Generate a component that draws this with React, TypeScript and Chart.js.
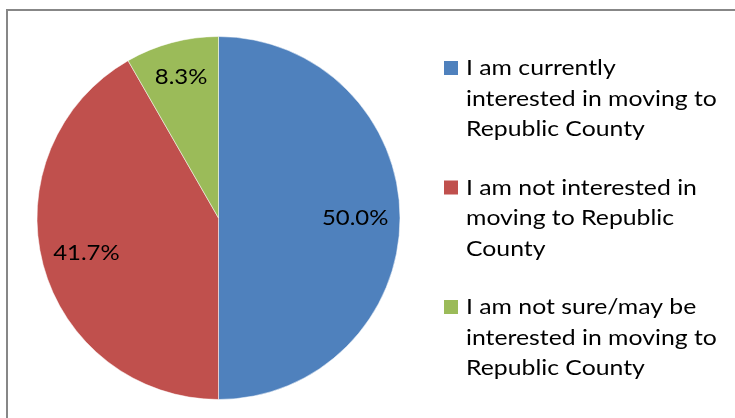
import React, { useEffect, useRef } from "react";
import { Chart, registerables } from "chart.js";

Chart.register(...registerables);

const categories = [
  "I am currently interested in moving to Republic County",
  "I am not interested in moving to Republic County",
  "I am not sure/may be interested in moving to Republic County",
];
const legendLines = [
  ["I am currently", "interested in moving to", "Republic County"],
  ["I am not interested in", "moving to Republic", "County"],
  ["I am not sure/may be", "interested in moving to", "Republic County"],
];
const values = [50.0, 41.7, 8.3];
const colors = ["#4F81BD", "#C0504D", "#9BBB59"];

const FONT = "Lato, 'Open Sans', sans-serif";

function stretchedText(ctx: CanvasRenderingContext2D, t: string, x: number, y: number, sx: number) {
  ctx.save();
  ctx.translate(x, y);
  ctx.scale(sx, 1);
  ctx.fillText(t, 0, 0);
  ctx.restore();
}

const framePlugin = {
  id: "frame",
  beforeDraw(chart: any) {
    const ctx = chart.ctx;
    ctx.save();
    ctx.fillStyle = "#ffffff";
    ctx.fillRect(0, 0, chart.width, chart.height);
    ctx.strokeStyle = "#878787";
    ctx.lineWidth = 2;
    ctx.strokeRect(7, 10, chart.width + 20, chart.height + 20);
    ctx.restore();
  },
};

const labelPlugin = {
  id: "sliceLabels",
  afterDatasetsDraw(chart: any) {
    const ctx = chart.ctx;
    const meta = chart.getDatasetMeta(0);
    const data = chart.data.datasets[0].data as number[];
    const total = data.reduce((a, b) => a + b, 0);
    ctx.save();
    ctx.fillStyle = "#000000";
    ctx.font = `21px ${FONT}`;
    ctx.textAlign = "center";
    ctx.textBaseline = "middle";
    meta.data.forEach((arc: any, i: number) => {
      const p = arc.getProps(["x", "y", "startAngle", "endAngle", "outerRadius"], true);
      const mid = (p.startAngle + p.endAngle) / 2;
      const f = data[i] / total < 0.1 ? 0.8 : 0.753;
      const x = p.x + Math.cos(mid) * p.outerRadius * f;
      const y = p.y + Math.sin(mid) * p.outerRadius * f;
      stretchedText(ctx, data[i].toFixed(1) + "%", x, y, 1.14);
    });
    ctx.restore();
  },
};

const legendPlugin = {
  id: "wrappedLegend",
  afterDraw(chart: any) {
    const ctx = chart.ctx;
    ctx.save();
    ctx.font = `21px ${FONT}`;
    ctx.textAlign = "left";
    ctx.textBaseline = "alphabetic";
    const baseX = 444;
    const firstBaseline = 75;
    const lineGap = 30.5;
    const itemGap = 119.5;
    legendLines.forEach((lines, i) => {
      const b0 = firstBaseline + i * itemGap;
      ctx.fillStyle = colors[i];
      ctx.fillRect(baseX, b0 - 14, 14, 14);
      ctx.fillStyle = "#000000";
      lines.forEach((ln, j) => {
        stretchedText(ctx, ln, baseX + 22, b0 + j * lineGap, 1.18);
      });
    });
    ctx.restore();
  },
};

export default function App() {
  const ref = useRef<HTMLCanvasElement | null>(null);
  useEffect(() => {
    if (!ref.current) return;
    const chart = new Chart(ref.current, {
      type: "pie",
      data: {
        labels: categories,
        datasets: [
          {
            data: values,
            backgroundColor: colors,
            borderColor: "rgba(255,255,255,0.5)",
            borderWidth: 1,
          },
        ],
      },
      options: {
        animation: false,
        responsive: false,
        layout: { padding: { left: 36.5, right: 334.5, top: 36, bottom: 18 } },
        plugins: {
          legend: { display: false },
          tooltip: { enabled: false },
        },
      },
      plugins: [framePlugin, labelPlugin, legendPlugin],
    });
    return () => chart.destroy();
  }, []);
  return (
    <div style={{ position: "absolute", left: 0, top: 0, width: 735, height: 418 }}>
      <canvas ref={ref} width={735} height={418} style={{ display: "block" }} />
    </div>
  );
}
